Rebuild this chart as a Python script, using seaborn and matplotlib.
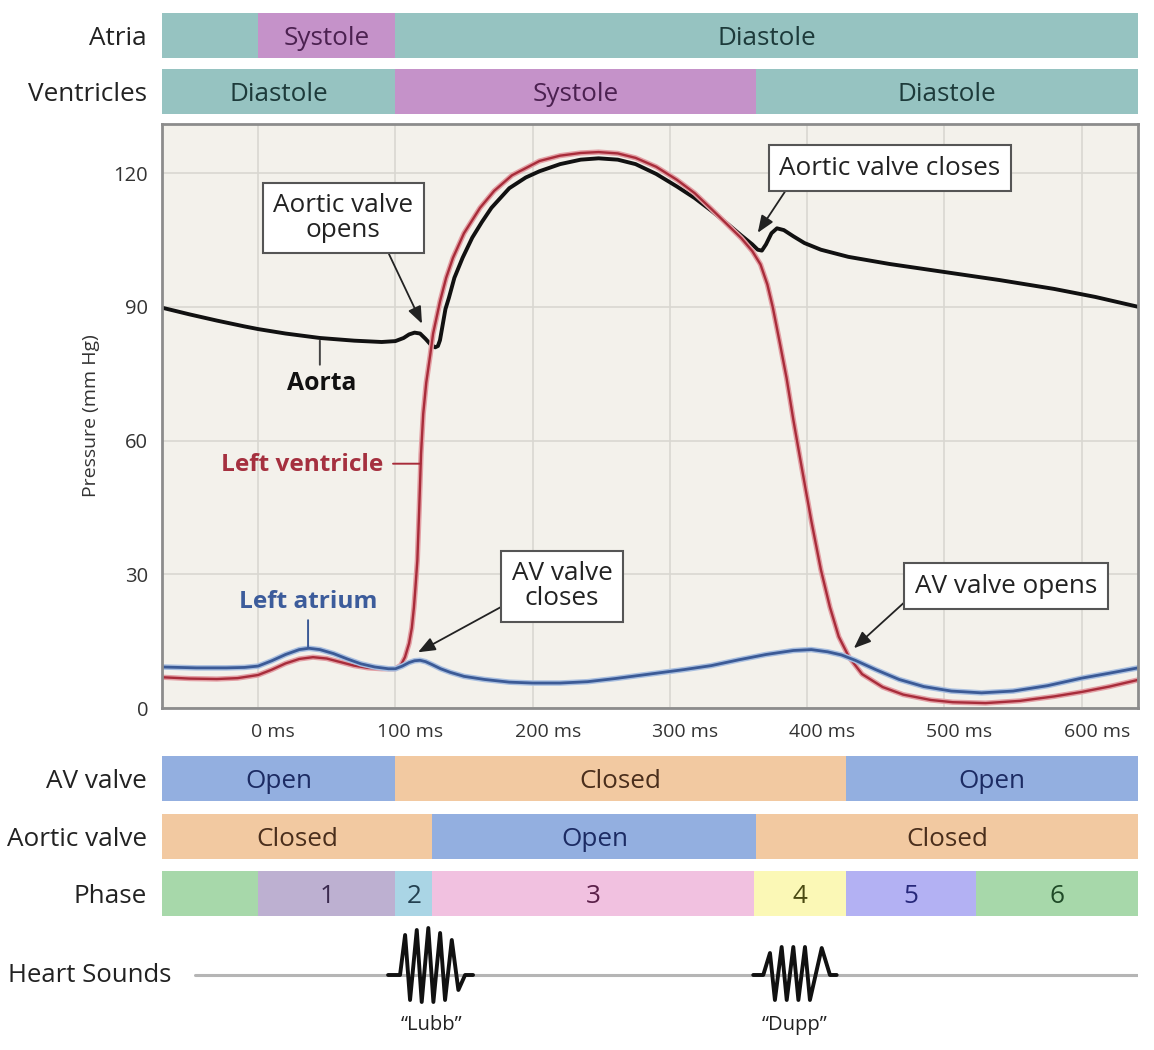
import pandas as pd
import seaborn as sns
import matplotlib.pyplot as plt
import matplotlib.transforms as mtransforms

# ---- pressure traces (time in ms, pressure in mm Hg)
aorta_t = [-70, -50, -30, -10, 0, 20, 45, 70, 90, 100, 106, 110, 114, 118, 122, 125.5, 129,
           131, 132.5, 134.5, 136.5, 139, 143, 149, 156, 163, 170, 183, 195, 205, 220, 235,
           248, 262, 275, 290, 305, 318, 330, 342, 352, 360, 364, 367, 370, 374, 378, 383,
           390, 398, 410, 430, 460, 500, 540, 580, 610, 641]
aorta_p = [89.8, 88.3, 86.9, 85.6, 85.0, 84.0, 83.0, 82.4, 82.1, 82.3, 83.0, 83.8, 84.2,
           84.0, 82.8, 81.6, 80.9, 81.2, 82.5, 86.0, 89.5, 92.0, 96.5, 101.0, 105.5, 109.0,
           112.2, 116.6, 119.0, 120.4, 122.0, 123.0, 123.3, 123.0, 122.0, 119.8, 117.0,
           114.4, 111.6, 108.6, 106.0, 104.0, 102.8, 102.6, 104.0, 106.5, 107.6, 107.2,
           105.8, 104.3, 102.8, 101.2, 99.6, 97.8, 96.0, 94.0, 92.2, 90.0]

lv_t = [-70, -50, -30, -15, 0, 10, 20, 30, 40, 50, 60, 70, 80, 90, 100, 104, 107, 110, 112,
        113.5, 114.5, 116, 117.3, 118.7, 120.3, 122.5, 125.3, 127.5, 132.6, 137, 142, 150,
        161.7, 172, 185, 205, 220, 235, 248, 262, 275, 290, 305, 318, 330, 342, 352, 360,
        366, 371, 375, 380, 385, 390, 396, 403, 410, 416.6, 423, 430.5, 440, 455, 470, 490,
        506, 530, 555, 580, 600, 620, 641]
lv_p = [6.9, 6.6, 6.5, 6.7, 7.4, 8.6, 10.0, 11.0, 11.4, 11.1, 10.3, 9.5, 9.0, 8.8, 8.8,
        9.6, 11.4, 14.5, 18.0, 22.5, 26.5, 33.0, 44.0, 57.0, 66.0, 73.0, 79.0, 84.0, 91.3,
        96.5, 101.0, 106.5, 112.2, 116.0, 119.5, 122.7, 123.9, 124.5, 124.7, 124.4, 123.4,
        121.4, 118.5, 115.5, 112.0, 108.4, 105.4, 102.5, 99.5, 95.0, 89.8, 82.0, 74.0,
        64.5, 54.0, 42.0, 31.0, 22.6, 16.0, 11.4, 7.6, 4.7, 3.0, 1.8, 1.3, 1.1, 1.6, 2.6,
        3.6, 4.8, 6.3]

la_t = [-70, -45, -23, -10, 0, 10, 20, 30, 37, 45, 55, 65, 75, 85, 95, 100, 105, 110, 114,
        118, 122, 127, 133, 140, 150, 165, 183, 200, 220, 240, 260, 285, 310, 330, 350, 370,
        390, 403, 415, 425, 435, 450, 467, 485, 505, 527, 550, 575, 600, 620, 641]
la_p = [9.2, 9.0, 9.0, 9.1, 9.4, 10.6, 12.0, 13.1, 13.4, 13.1, 12.2, 11.0, 9.9, 9.2, 8.8,
        8.8, 9.4, 10.2, 10.6, 10.7, 10.4, 9.7, 8.8, 8.0, 7.1, 6.4, 5.8, 5.6, 5.6, 5.9, 6.6,
        7.6, 8.6, 9.5, 10.8, 12.0, 12.9, 13.1, 12.6, 11.9, 10.7, 8.6, 6.4, 4.8, 3.8, 3.4,
        3.8, 5.0, 6.7, 7.8, 9.0]

x_ticks = [0, 100, 200, 300, 400, 500, 600]
x_tick_labels = [f"{v} ms" for v in x_ticks]
y_ticks = [0, 30, 60, 90, 120]
t_min, t_max = -70, 641

# ---- state rows: segment boundaries (ms), text and state per segment
atria_edges = [-70, 0, 100, 641]
atria_labels = ["", "Systole", "Diastole"]
atria_state = ["dia", "sys", "dia"]

vent_edges = [-70, 100, 363, 641]
vent_labels = ["Diastole", "Systole", "Diastole"]
vent_state = ["dia", "sys", "dia"]

av_edges = [-70, 100, 428, 641]
av_labels = ["Open", "Closed", "Open"]
av_state = ["open", "closed", "open"]

aortic_edges = [-70, 127, 363, 641]
aortic_labels = ["Closed", "Open", "Closed"]
aortic_state = ["closed", "open", "closed"]

phase_edges = [-70, 0, 100, 127, 361, 428, 523, 641]
phase_labels = ["", "1", "2", "3", "4", "5", "6"]
phase_fill = ["#a7d8aa", "#bdb0d1", "#aad5e5", "#f1c1e0", "#fbf8b6", "#b3b1f3", "#a7d8aa"]
phase_ink = ["#1f4a27", "#3b2a4f", "#234050", "#5a1f48", "#4a4a12", "#26277a", "#1f4a27"]

state_fill = {"dia": "#96c3c1", "sys": "#c592c9", "open": "#93afe0", "closed": "#f2c9a1"}
state_ink = {"dia": "#1d3a3a", "sys": "#4b2150", "open": "#1c2b63", "closed": "#4a2e1c"}

# ---- heart sounds (time in ms, deflection in px above the trace line)
sound_line_t = [-46, 641]
lubb_t = [94.7, 103.4, 107.1, 110.7, 115.6, 119.2, 124.0, 127.7, 132.6, 136.2, 141.1,
          145.9, 150.8, 156.6]
lubb_a = [0, 0, 40, -25, 45, -27, 47, -27, 42, -25, 35, -15, 0, 0]
dupp_t = [360.7, 368.0, 372.9, 376.5, 381.4, 385.1, 389.9, 393.6, 398.4, 402.0, 410.6,
          416.6, 421.5]
dupp_a = [0, 0, 22, -25, 28, -25, 28, -25, 28, -25, 27, 0, 0]

sns.set_style("white")
plt.rcParams["font.family"] = ["Open Sans", "DejaVu Sans"]

W, H = 1154, 1050
fig = plt.figure(figsize=(W / 100, H / 100), dpi=100)


def rect(x0, y0, x1, y1):
    # pixel box (top-left origin) -> figure fraction
    return [x0 / W, 1 - y1 / H, (x1 - x0) / W, (y1 - y0) / H]


# ---- main pressure plot
ax = fig.add_axes(rect(162, 124, 1138, 708))
ax.set_facecolor("#f3f1eb")

sns.lineplot(x=aorta_t, y=aorta_p, ax=ax, color="#111111", lw=2.8, sort=False, estimator=None)
sns.lineplot(x=lv_t, y=lv_p, ax=ax, color="#e3a0a5", lw=3.8, sort=False, estimator=None)
sns.lineplot(x=lv_t, y=lv_p, ax=ax, color="#a82c3a", lw=1.7, sort=False, estimator=None)
sns.lineplot(x=la_t, y=la_p, ax=ax, color="#a9bfe0", lw=4.0, sort=False, estimator=None)
sns.lineplot(x=la_t, y=la_p, ax=ax, color="#3b5a96", lw=2.0, sort=False, estimator=None)

ax.set_xlim(t_min, t_max)
ax.set_ylim(0, 131)
ax.set_xticks(x_ticks)
ax.set_xticklabels(x_tick_labels)
ax.set_yticks(y_ticks)
ax.tick_params(axis="x", length=0, labelsize=14, colors="#333333", pad=11)
ax.tick_params(axis="y", length=0, labelsize=14.5, colors="#333333", pad=10)
ax.grid(True, color="#d9d7d1", lw=1.2)
ax.set_axisbelow(True)
for s in ax.spines.values():
    s.set_color("#8c8c8c")
    s.set_linewidth(2)
ax.set_xlabel("")
ax.set_ylabel("Pressure (mm Hg)", fontsize=14, color="#333333")
ax.yaxis.set_label_coords(-0.064, 0.5)

shift = mtransforms.ScaledTranslation(15 / 100, 0, fig.dpi_scale_trans)
for lbl in ax.get_xticklabels():
    lbl.set_transform(lbl.get_transform() + shift)

# trace labels with short leaders
lead = dict(arrowstyle="-", lw=1.4, shrinkA=0, shrinkB=0)
ax.annotate("", xy=(45, 82.4), xytext=(45, 77.0), arrowprops=dict(color="#444444", **lead))
ax.text(46.6, 72.8, "Aorta", fontsize=17.8, fontweight="bold", color="#111111",
        ha="center", va="center")
ax.annotate("", xy=(118.4, 54.8), xytext=(98.3, 54.8), arrowprops=dict(color="#a82c3a", **lead))
ax.text(91, 54.6, "Left ventricle", fontsize=17.6, fontweight="bold", color="#a5303f",
        ha="right", va="center")
ax.annotate("", xy=(36.4, 13.6), xytext=(36.4, 19.7), arrowprops=dict(color="#3b5a96", **lead))
ax.text(36.4, 23.7, "Left atrium", fontsize=17.6, fontweight="bold", color="#3c5c9b",
        ha="center", va="center")

# valve event call-outs
box = dict(boxstyle="square,pad=0.4", fc="white", ec="#555555", lw=1.5)


def callout(text, xy, xytext, relpos):
    ax.annotate(text, xy=xy, xytext=xytext, ha="center", va="center", fontsize=18.8,
                color="#222222", bbox=box, linespacing=0.98,
                arrowprops=dict(arrowstyle="-|>,head_length=0.55,head_width=0.22",
                                color="#222222", lw=1.3, shrinkA=0, shrinkB=0,
                                relpos=relpos))


callout("Aortic valve\nopens", (119.4, 86.2), (61.9, 109.9), (0.79, 0.0))
callout("Aortic valve closes", (364, 106.6), (460, 121.1), (0.06, 0.0))
callout("AV valve\ncloses", (116.5, 12.5), (221.4, 27.3), (0.0, 0.2))
callout("AV valve opens", (434, 13.4), (544.8, 27.3), (0.0, 0.24))


# ---- state rows
def band(box_px, edges, labels, fills, inks, name):
    bx = fig.add_axes(rect(*box_px))
    for i, lab in enumerate(labels):
        bx.barh(0.5, edges[i + 1] - edges[i], left=edges[i], height=1,
                color=fills[i], edgecolor="none")
        if lab:
            bx.text((edges[i] + edges[i + 1]) / 2, 0.43, lab, ha="center", va="center",
                    fontsize=18.8, color=inks[i])
    bx.set_xlim(t_min, t_max)
    bx.set_ylim(0, 1)
    bx.axis("off")
    y_mid = (box_px[1] + box_px[3]) / 2 + 3
    fig.text(147 / W, 1 - y_mid / H, name, ha="right", va="center", fontsize=18.8,
             color="#222222")


band((162, 13, 1138, 58), atria_edges, atria_labels,
     [state_fill[s] for s in atria_state], [state_ink[s] for s in atria_state], "Atria")
band((162, 69, 1138, 114), vent_edges, vent_labels,
     [state_fill[s] for s in vent_state], [state_ink[s] for s in vent_state], "Ventricles")
band((162, 756, 1138, 801), av_edges, av_labels,
     [state_fill[s] for s in av_state], [state_ink[s] for s in av_state], "AV valve")
band((162, 814, 1138, 859), aortic_edges, aortic_labels,
     [state_fill[s] for s in aortic_state], [state_ink[s] for s in aortic_state],
     "Aortic valve")
band((162, 871, 1138, 916), phase_edges, phase_labels, phase_fill, phase_ink, "Phase")

# ---- heart sounds
hx = fig.add_axes(rect(162, 920, 1138, 1045))
sns.lineplot(x=sound_line_t, y=[0, 0], ax=hx, color="#b5b5b5", lw=2.2, estimator=None)
sns.lineplot(x=lubb_t, y=lubb_a, ax=hx, color="#111111", lw=2.8, sort=False, estimator=None)
sns.lineplot(x=dupp_t, y=dupp_a, ax=hx, color="#111111", lw=2.8, sort=False, estimator=None)
hx.set_xlim(t_min, t_max)
hx.set_ylim(-70, 55)
hx.axis("off")
hx.text(126, -50, "\u201cLubb\u201d", ha="center", va="center", fontsize=14.5, color="#222222")
hx.text(391, -50, "\u201cDupp\u201d", ha="center", va="center", fontsize=14.5, color="#222222")
fig.text(8 / W, 1 - 976 / H, "Heart Sounds", ha="left", va="center", fontsize=18.5,
         color="#222222")

fig.savefig("out.png", dpi=100, facecolor="white")
